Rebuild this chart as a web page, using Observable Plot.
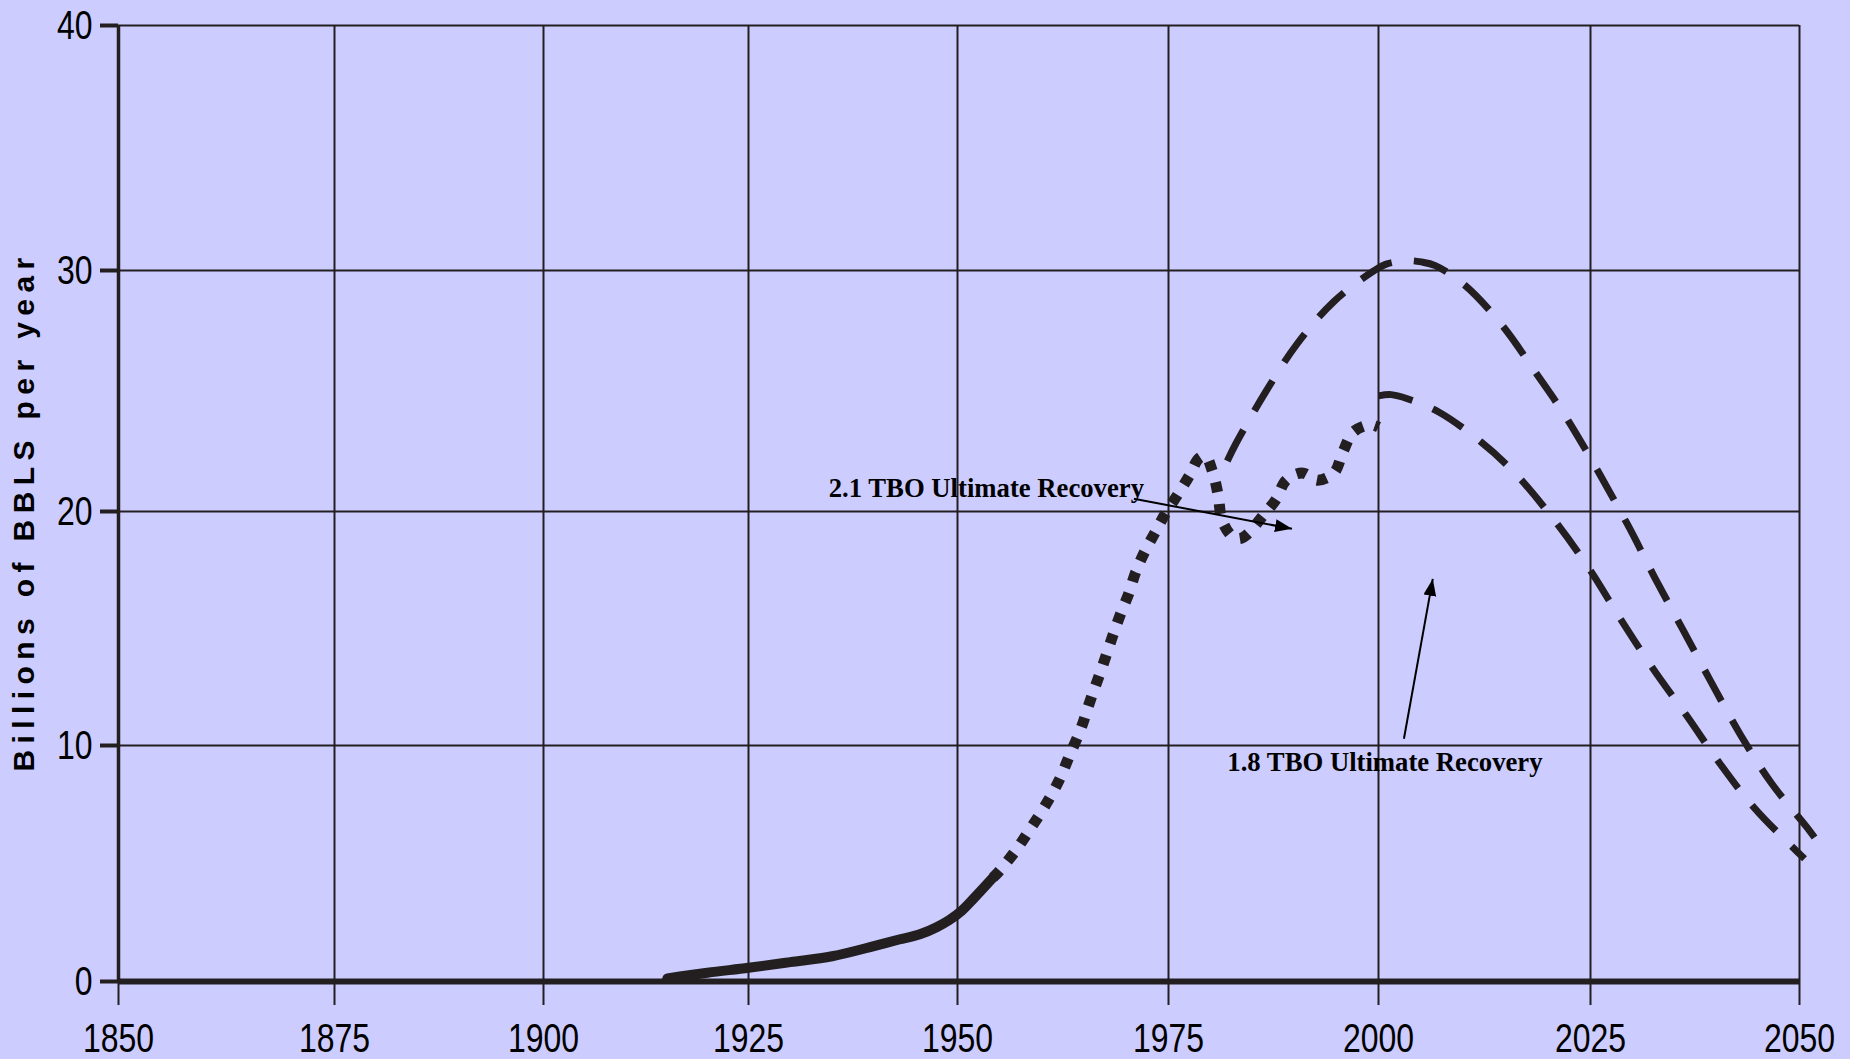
<!DOCTYPE html>
<html><head><meta charset="utf-8">
<script src="https://cdn.jsdelivr.net/npm/d3@7"></script>
<script src="https://cdn.jsdelivr.net/npm/@observablehq/plot@0.6"></script>
<style>
html,body{margin:0;padding:0;background:#CCCCFF;overflow:hidden}
#chart svg{display:block}
</style></head><body><div id="chart"></div>
<script>
// ---- data ----
const xTicks = [1850, 1875, 1900, 1925, 1950, 1975, 2000, 2025, 2050];
const yTicks = [0, 10, 20, 30, 40];
const yTitle = "Billions of BBLS per year";

// historical production (solid)
const historicYears = [1915.1, 1920, 1925, 1930, 1935, 1940, 1943, 1945.5, 1947.5, 1949, 1950.5, 1952, 1954.2];
const historicValues = [0.13, 0.37, 0.58, 0.82, 1.07, 1.5, 1.78, 2.0, 2.3, 2.6, 3.0, 3.55, 4.4];

// historical production (dotted)
const dottedYears = [1954.2, 1954.9, 1956.9, 1958.5, 1960.3, 1962.0, 1963.3, 1964.6, 1965.8, 1967.1, 1968.4, 1969.4, 1970.3, 1971.1, 1972.2, 1973.4, 1974.6, 1976.1, 1977.5, 1978.6, 1979.4, 1980.2, 1980.9, 1981.4, 1982.7, 1983.6, 1984.6, 1986.2, 1987.8, 1989.0, 1990.9, 1992.8, 1994.7, 1995.8, 1997.0, 1999.0, 2000];
const dottedValues = [4.4, 4.66, 5.55, 6.4, 7.4, 8.5, 9.6, 10.7, 12.0, 13.3, 14.7, 15.7, 16.5, 17.4, 18.3, 19.1, 19.9, 20.7, 21.5, 22.2, 22.3, 21.7, 20.7, 19.6, 18.9, 18.85, 19.1, 19.8, 20.5, 21.3, 21.6, 21.3, 21.6, 22.5, 23.3, 23.6, 23.5];

// 2.1 TBO ultimate recovery projection (dashed)
const upperYears = [1982.0, 1983.0, 1986.55, 1990.3, 1994.65, 1999.5, 2001.0, 2003.4, 2005.05, 2006.7, 2010.15, 2014.6, 2018.5, 2022.35, 2029.35, 2032.65, 2036.05, 2039.45, 2042.95, 2046.65, 2050.85, 2051.8];
const upperValues = [22.1, 22.8, 24.95, 26.95, 28.7, 30.0, 30.27, 30.4, 30.35, 30.2, 29.4, 27.72, 25.78, 23.78, 19.5, 17.2, 14.95, 12.7, 10.45, 8.4, 6.55, 6.1];

// 1.8 TBO ultimate recovery projection (dashed)
const lowerYears = [2000, 2001.5, 2003.4, 2007.1, 2012.1, 2016.15, 2020.9, 2024.95, 2028.6, 2032.35, 2036.45, 2040.45, 2044.55, 2049.15, 2050.6];
const lowerValues = [24.8, 24.85, 24.68, 24.13, 22.88, 21.57, 19.55, 17.5, 15.4, 13.35, 11.3, 9.25, 7.375, 5.7, 5.2];

// annotations
const noteText = ["2.1 TBO Ultimate Recovery", "1.8 TBO Ultimate Recovery"];
const noteX = [1934.6, 1982.0];
const noteY = [20.59, 8.94];
const arrowX1 = [1970.9, 2003.0];
const arrowY1 = [20.53, 10.29];
const arrowX2 = [1989.7, 2006.4];
const arrowY2 = [19.26, 17.12];

// ---- build ----
const ink = "#231f20";
const series = (xs, ys) => xs.map((x, i) => ({x, y: ys[i]}));
const historic = series(historicYears, historicValues);
const dotted = series(dottedYears, dottedValues);
const upper = series(upperYears, upperValues);
const lower = series(lowerYears, lowerValues);
const notes = noteText.map((t, i) => ({t, x: noteX[i], y: noteY[i]}));
const arrows = arrowX1.map((x1, i) => ({x1, y1: arrowY1[i], x2: arrowX2[i], y2: arrowY2[i]}));
const tickFont = "'Liberation Sans', Arial, sans-serif";

const plot = Plot.plot({
  width: 1850, height: 1059,
  marginLeft: 118, marginRight: 51, marginTop: 25, marginBottom: 78,
  style: {background: "transparent", color: "#000", overflow: "visible"},
  x: {type: "linear", domain: xTicks, range: [118, 334, 543, 748, 957, 1168, 1378, 1590, 1799]},
  y: {type: "linear", domain: yTicks, range: [981, 745, 511, 270, 25]},
  marks: [
    Plot.gridX(xTicks, {stroke: ink, strokeOpacity: 1, strokeWidth: 2}),
    Plot.gridY(yTicks, {stroke: ink, strokeOpacity: 1, strokeWidth: 2}),
    Plot.axisX(xTicks, {tickSize: 24, tickPadding: 17, stroke: ink, strokeWidth: 2,
      fontSize: 41, fontFamily: tickFont, fill: "#000", tickFormat: d => String(d), label: null}),
    Plot.axisY(yTicks, {tickSize: 18, tickPadding: 8, stroke: ink, strokeWidth: 4,
      fontSize: 41, fontFamily: tickFont, fill: "#000", tickFormat: d => String(d), label: null}),
    Plot.ruleX([1850], {stroke: ink, strokeWidth: 3.5}),
    Plot.ruleY([0], {stroke: ink, strokeWidth: 6}),
    Plot.line(historic, {x: "x", y: "y", stroke: ink, strokeWidth: 10, curve: "monotone-x"}),
    Plot.line(dotted, {x: "x", y: "y", stroke: ink, strokeWidth: 11, strokeDasharray: "10,12", strokeLinecap: "butt", curve: "catmull-rom"}),
    Plot.line(upper, {x: "x", y: "y", stroke: ink, strokeWidth: 7, strokeDasharray: "35,22", strokeLinecap: "butt", curve: "catmull-rom"}),
    Plot.line(lower, {x: "x", y: "y", stroke: ink, strokeWidth: 7, strokeDasharray: "35,22", strokeLinecap: "butt", curve: "catmull-rom"}),
    Plot.link(arrows, {x1: "x1", y1: "y1", x2: "x2", y2: "y2", stroke: "#000", strokeWidth: 2, markerEnd: "arrow"}),
    Plot.text(notes, {x: "x", y: "y", text: "t", textAnchor: "start", lineAnchor: "bottom",
      fontFamily: "'Liberation Serif', 'Times New Roman', serif", fontWeight: "bold", fontSize: 26.7, fill: "#000"}),
    Plot.text([yTitle], {text: d => d, frameAnchor: "left", dx: -94, dy: 8, rotate: -90,
      textAnchor: "middle", lineAnchor: "middle", fontFamily: "'Liberation Sans', Arial, sans-serif",
      fontWeight: "bold", fontSize: 30, fill: "#000"})
  ]
});

// condensed tick labels (narrow face, like Arial Narrow)
plot.querySelectorAll("g[aria-label$='tick label'] text").forEach(t => {
  const tr = t.getAttribute("transform") || "";
  t.setAttribute("transform", tr + " scale(0.78,1)");
});

// letter-spaced axis title
plot.querySelectorAll("text").forEach(t => {
  if (t.textContent === yTitle) t.style.letterSpacing = "6.4px";
});

// filled triangular arrowheads
plot.querySelectorAll("marker").forEach(m => {
  m.setAttribute("viewBox", "-17 -6.5 17 13");
  m.setAttribute("markerUnits", "userSpaceOnUse");
  m.setAttribute("markerWidth", "17");
  m.setAttribute("markerHeight", "13");
  m.setAttribute("refX", "0");
  m.setAttribute("refY", "0");
  const p = m.querySelector("path");
  if (p) {
    p.setAttribute("d", "M-17,-6.5L0,0L-17,6.5Z");
    p.setAttribute("fill", "#000");
    p.setAttribute("stroke", "none");
  }
  m.setAttribute("fill", "#000");
  m.setAttribute("stroke", "none");
});

document.getElementById("chart").appendChild(plot);
</script></body></html>
